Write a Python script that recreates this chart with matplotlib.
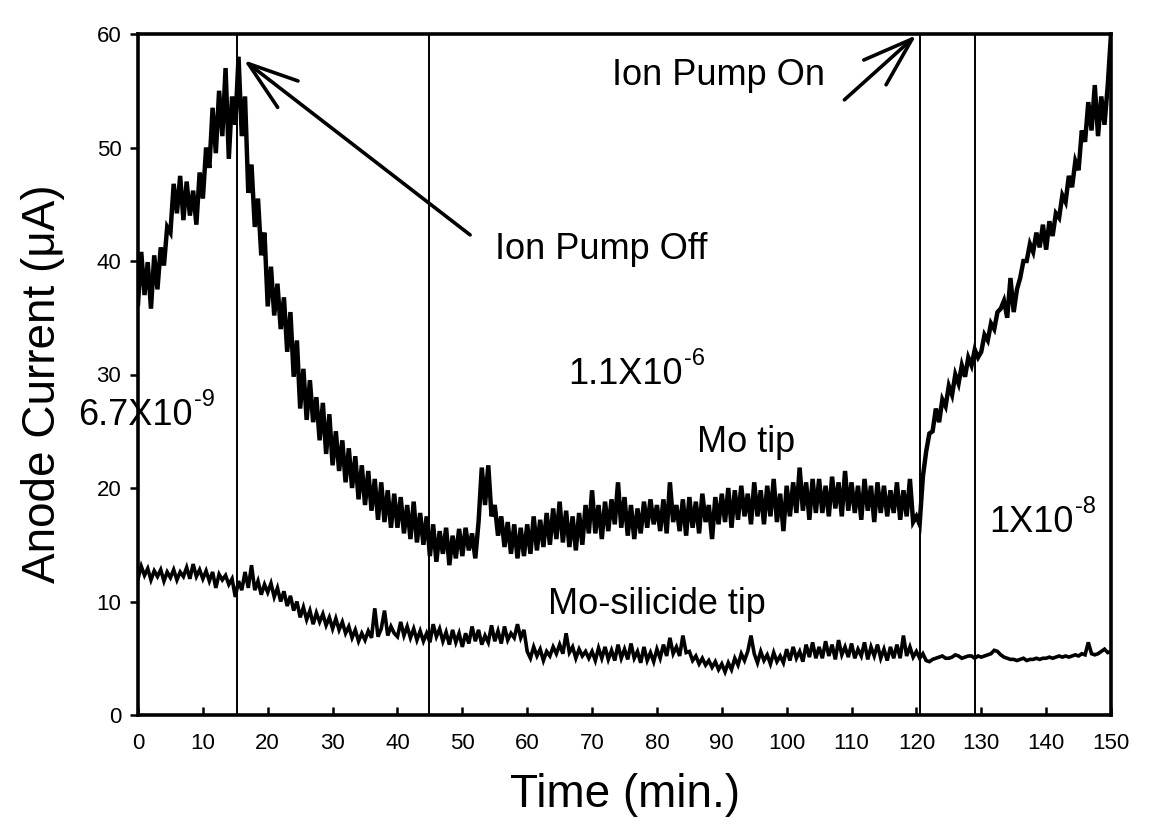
import numpy as np
import matplotlib
matplotlib.use("Agg")
import matplotlib.pyplot as plt

plt.rcParams['font.family'] = ['Liberation Sans', 'DejaVu Sans']

# ---- data (time step 0.5 min, 0..150) ----
time_min = [i * 0.5 for i in range(301)]

mo_tip = [
    36.2, 40.8, 37.0, 39.9, 35.8, 40.5, 37.5, 41.2, 39.6, 43.0,
    42.5, 46.8, 44.2, 47.5, 43.6, 47.0, 44.0, 46.2, 43.2, 47.8,
    45.5, 50.0, 48.2, 53.5, 49.5, 55.0, 51.0, 57.0, 49.0, 54.5,
    52.0, 58.0, 51.0, 54.5, 46.0, 48.5, 43.0, 45.5, 40.5, 42.5,
    36.0, 39.5, 35.2, 38.0, 34.0, 36.8, 32.0, 35.5, 29.8, 33.0,
    27.0, 30.5, 26.0, 29.5, 25.8, 28.0, 24.2, 27.5, 23.0, 26.5,
    22.0, 25.0, 21.5, 24.2, 20.5, 23.5, 20.0, 22.8, 19.0, 22.0,
    18.5, 21.5, 18.0, 20.8, 17.2, 20.5, 17.0, 19.8, 16.5, 19.5,
    16.5, 19.2, 16.0, 18.5, 15.5, 18.8, 15.2, 17.8, 15.0, 17.5,
    14.0, 16.8, 13.5, 16.2, 14.2, 16.5, 13.2, 15.8, 13.8, 16.4,
    14.0, 16.5, 14.5, 16.0, 13.8, 17.0, 21.8, 18.5, 22.0, 17.5,
    18.5, 15.8, 17.5, 14.8, 17.0, 14.2, 16.8, 13.8, 16.5, 14.0,
    16.8, 14.2, 17.5, 14.5, 17.2, 14.8, 17.8, 15.0, 18.2, 15.5,
    18.8, 15.2, 18.0, 14.8, 17.5, 14.5, 17.8, 15.0, 18.5, 16.0,
    19.8, 16.0, 18.5, 15.5, 18.8, 16.2, 19.0, 16.8, 20.5, 16.5,
    19.2, 15.8, 18.5, 15.5, 18.2, 16.0, 18.8, 16.5, 19.0, 16.8,
    18.5, 16.2, 19.0, 16.0, 20.5, 17.0, 18.5, 16.2, 19.0, 15.8,
    19.2, 16.5, 18.8, 16.0, 19.5, 17.0, 18.5, 15.5, 19.2, 16.8,
    19.5, 17.0, 20.0, 16.5, 19.8, 17.2, 20.2, 17.5, 19.5, 16.8,
    20.5, 17.5, 19.8, 16.8, 20.2, 17.5, 20.8, 17.0, 19.5, 16.2,
    20.2, 17.5, 20.5, 17.8, 21.8, 18.0, 20.5, 17.2, 20.8, 17.8,
    20.8, 17.8, 20.2, 17.5, 21.0, 18.2, 20.5, 17.5, 21.5, 18.0,
    20.5, 17.8, 20.2, 17.2, 20.8, 18.0, 20.2, 17.0, 20.5, 17.8,
    20.2, 17.5, 19.8, 17.8, 20.5, 17.2, 19.8, 17.5, 20.8, 17.0,
    17.5, 16.8, 21.0, 23.2, 24.8, 25.0, 27.0, 25.8, 27.8, 27.2,
    29.0, 28.2, 30.0, 29.2, 30.8, 29.8, 31.5, 30.8, 32.2, 31.5,
    32.0, 33.5, 33.0, 34.5, 34.0, 35.5, 35.8, 36.5, 35.0, 38.5,
    35.5, 37.5, 38.5, 40.0, 40.0, 41.5, 40.8, 42.5, 41.2, 43.2,
    41.0, 43.5, 42.2, 44.2, 43.8, 45.8, 45.2, 47.5, 46.5, 48.8,
    48.0, 51.5, 50.5, 54.0, 51.5, 55.5, 51.0, 54.5, 52.0, 55.5,
    60.0,
]

mo_silicide_tip = [
    12.0, 13.1, 12.3, 12.9, 11.9, 12.7, 12.2, 12.8, 11.8, 12.6,
    12.1, 12.8, 11.9, 12.6, 12.2, 13.0, 12.0, 13.3, 12.2, 12.8,
    12.0, 12.7, 11.8, 12.6, 11.2, 12.4, 11.9, 12.3, 11.5, 12.0,
    10.4, 11.8, 11.0, 12.6, 11.2, 13.2, 11.0, 11.8, 10.6, 11.5,
    10.8, 11.6, 10.4, 11.2, 10.0, 10.9, 9.6, 10.5, 9.2, 10.0,
    8.6, 9.5, 8.4, 9.2, 8.0, 9.0, 8.2, 8.9, 7.9, 8.6,
    7.6, 8.5, 7.5, 8.2, 7.2, 7.8, 6.8, 7.5, 6.5, 7.2,
    6.6, 7.4, 6.8, 9.4, 6.9, 7.6, 9.2, 7.0, 7.8, 7.2,
    6.9, 8.2, 7.0, 7.8, 6.8, 7.6, 6.6, 7.4, 6.5, 7.2,
    6.4, 8.0, 6.9, 7.6, 6.5, 7.3, 6.2, 7.5, 6.4, 7.2,
    6.0, 7.2, 6.3, 7.8, 6.5, 7.5, 6.2, 7.0, 6.4, 7.9,
    6.5, 7.4, 6.3, 7.8, 6.6, 7.2, 6.8, 8.0, 6.8, 7.5,
    5.6, 5.0, 6.0, 5.2, 5.8, 4.8, 5.6, 5.2, 6.0, 5.4,
    6.2, 5.4, 7.2, 5.5, 6.0, 5.0, 5.8, 5.2, 5.6, 5.0,
    5.6, 4.8, 5.9, 5.0, 6.0, 4.9, 5.7, 4.8, 6.2, 5.0,
    5.8, 4.9, 6.3, 5.0, 5.6, 4.6, 6.0, 4.8, 5.5, 4.7,
    5.8, 5.0, 6.2, 5.2, 6.8, 5.4, 6.0, 5.2, 7.0, 5.5,
    5.6, 4.8, 5.2, 4.5, 5.0, 4.4, 4.8, 4.2, 4.7, 4.0,
    4.5, 3.8, 4.6, 4.0, 5.0, 4.4, 5.4, 4.8, 5.6, 7.0,
    5.4, 4.6, 5.6, 4.8, 5.3, 4.5, 5.5, 4.7, 5.2, 4.6,
    5.8, 4.8, 6.0, 5.0, 5.6, 4.7, 6.2, 5.1, 6.4, 5.0,
    6.0, 5.0, 6.5, 5.2, 6.2, 4.9, 6.6, 5.3, 6.0, 5.1,
    6.3, 5.0, 5.8, 5.2, 6.4, 4.9, 6.0, 5.2, 6.2, 5.0,
    5.8, 4.8, 6.0, 5.0, 6.2, 5.0, 7.0, 5.2, 6.0, 5.1,
    5.6, 5.0, 5.4, 4.8, 4.7, 4.9, 5.0, 5.1, 5.2, 5.0,
    5.0, 5.1, 5.3, 5.2, 5.0, 5.1, 5.2, 5.2, 5.0, 5.2,
    5.1, 5.2, 5.3, 5.4, 5.7, 5.6, 5.3, 5.1, 5.0, 4.9,
    4.9, 4.8, 4.9, 5.0, 4.8, 4.9, 4.9, 5.0, 4.9, 5.0,
    5.0, 5.1, 5.0, 5.1, 5.2, 5.1, 5.2, 5.1, 5.2, 5.3,
    5.2, 5.4, 5.3, 6.4, 5.4, 5.3, 5.4, 5.6, 5.8, 5.5,
    5.6,
]

event_times = [15.2, 44.8, 120.5, 129.0]
x_ticks = list(range(0, 151, 10))
y_ticks = list(range(0, 61, 10))

# ---- figure ----
fig = plt.figure(figsize=(11.57, 8.24), dpi=100)
ax = fig.add_axes([138/1157, 1 - 715/824, (1111 - 138)/1157, (715 - 34)/824])

ax.plot(time_min, mo_tip, color='black', lw=3.2, solid_joinstyle='miter')
ax.plot(time_min, mo_silicide_tip, color='black', lw=2.6, solid_joinstyle='miter')

for t in event_times:
    ax.axvline(t, color='black', lw=1.4)

ax.set_xlim(0, 150)
ax.set_ylim(0, 60)
ax.set_xticks(x_ticks)
ax.set_yticks(y_ticks)
ax.tick_params(axis='x', direction='in', length=6, width=1.8, pad=13, labelsize=16)
ax.tick_params(axis='y', direction='out', length=6, width=1.8, pad=6, labelsize=16)
for s in ax.spines.values():
    s.set_linewidth(2.6)

fig.text(625/1157, 1 - 795/824, 'Time (min.)', ha='center', va='center', fontsize=33)
fig.text(43/1157, 1 - 384/824, 'Anode Current (\u03bcA)', ha='center', va='center',
         rotation=90, fontsize=33)

tfs = 26


def sci_label(x, y, base, expo):
    t = ax.text(x, y, base, fontsize=tfs, ha='left', va='center', clip_on=False)
    ax.annotate(expo, xy=(1.0, 0.62), xycoords=t, xytext=(1, 0),
                textcoords='offset points', fontsize=17, ha='left', va='bottom',
                annotation_clip=False)


ax.text(55.0, 41.0, 'Ion Pump Off', fontsize=tfs, ha='left', va='center')
ax.text(73.0, 56.3, 'Ion Pump On', fontsize=tfs, ha='left', va='center')
sci_label(66.3, 30.0, '1.1X10', '-6')
sci_label(-9.3, 26.4, '6.7X10', '-9')
sci_label(131.3, 17.0, '1X10', '-8')
ax.text(86.1, 24.0, 'Mo tip', fontsize=tfs, ha='left', va='center')
ax.text(63.2, 9.7, 'Mo-silicide tip', fontsize=tfs, ha='left', va='center')

arrow_style = dict(arrowstyle='->,head_length=1.8,head_width=0.6', color='black',
                   lw=2.6, mutation_scale=20, shrinkA=0, shrinkB=0)
ax.annotate('', xy=(16.3, 57.7), xytext=(51.2, 42.3), arrowprops=arrow_style)
ax.annotate('', xy=(120.0, 59.9), xytext=(108.9, 54.2), arrowprops=arrow_style,
            annotation_clip=False)

fig.savefig('out.png', dpi=100)
